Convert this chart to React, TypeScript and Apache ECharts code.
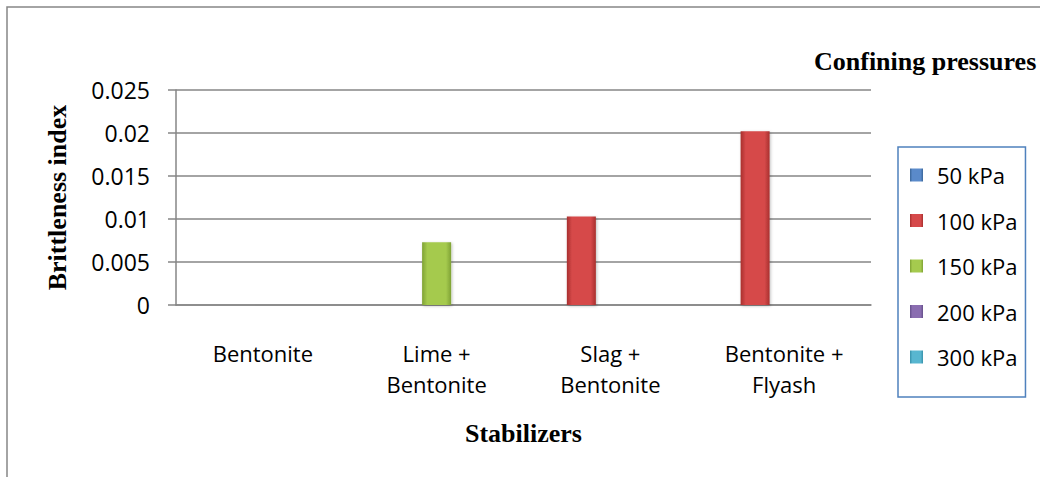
import React, { useEffect, useRef } from "react";
import * as echarts from "echarts";

// Stabilizer mixes along the category axis
const categories = ["Bentonite", "Lime +\nBentonite", "Slag +\nBentonite", "Bentonite +\nFlyash"];

// Confining pressure groups (legend order)
const seriesNames = ["50 kPa", "100 kPa", "150 kPa", "200 kPa", "300 kPa"];

// Brittleness index per stabilizer for each confining pressure
const values50 = [0, 0, 0, 0];
const values100 = [0, 0, 0.0103, 0.0202];
const values150 = [0, 0.0073, 0, 0];
const values200 = [0, 0, 0, 0];
const values300 = [0, 0, 0, 0];

// Value axis tick labels
const yTickLabels = ["0", "0.005", "0.01", "0.015", "0.02", "0.025"];
const yStep = 0.005;

// Bevel-style palette: [edge, centre]
const palette: [string, string][] = [
  ["#3A6699", "#5A8ACA"],
  ["#A8302E", "#D6494A"],
  ["#7FA234", "#A5CA4E"],
  ["#65508A", "#8A6DB0"],
  ["#3791AA", "#58B6D0"],
];

const seriesValues = [values50, values100, values150, values200, values300];

const sansFont = "'Open Sans', 'Noto Sans', sans-serif";
const serifFont = "'Liberation Serif', 'DejaVu Serif', serif";

function bevel(edge: string, centre: string) {
  return new echarts.graphic.LinearGradient(0, 0, 1, 0, [
    { offset: 0, color: edge },
    { offset: 0.18, color: centre },
    { offset: 0.82, color: centre },
    { offset: 1, color: edge },
  ]);
}

export default function App() {
  const ref = useRef<HTMLDivElement>(null);

  useEffect(() => {
    if (!ref.current) return;
    const chart = echarts.init(ref.current, null, { renderer: "svg" });

    const series = seriesNames.map((name, i) => ({
      name,
      type: "bar" as const,
      data: seriesValues[i],
      barGap: "0%",
      barCategoryGap: "16.5%",
      itemStyle: {
        color: bevel(palette[i][0], palette[i][1]),
        shadowColor: "rgba(0,0,0,0.25)",
        shadowBlur: 3,
        shadowOffsetX: 1,
        shadowOffsetY: 1,
      },
    }));

    chart.setOption({
      animation: false,
      backgroundColor: "#ffffff",
      grid: { left: 176, right: 169, top: 90, bottom: 172, containLabel: false },
      xAxis: {
        type: "category",
        data: categories,
        name: "Stabilizers",
        nameLocation: "middle",
        nameGap: 115,
        nameTextStyle: { fontFamily: serifFont, fontWeight: "bold", fontSize: 26, color: "#000" },
        axisLine: { show: true, lineStyle: { color: "#868686", width: 1.5 } },
        axisTick: { show: false },
        axisLabel: {
          fontFamily: sansFont,
          fontSize: 22,
          lineHeight: 31,
          color: "#000",
          margin: 32,
          interval: 0,
        },
      },
      yAxis: {
        type: "value",
        min: 0,
        max: 0.025,
        interval: yStep,
        name: "Brittleness index",
        nameLocation: "middle",
        nameRotate: 90,
        nameGap: 106,
        nameTextStyle: { fontFamily: serifFont, fontWeight: "bold", fontSize: 26, color: "#000" },
        axisLine: { show: true, lineStyle: { color: "#868686", width: 1.5 } },
        axisTick: { show: true, length: 8, inside: false, lineStyle: { color: "#868686", width: 1.5 } },
        axisLabel: {
          fontFamily: sansFont,
          fontSize: 23,
          color: "#000",
          margin: 26,
          formatter: (v: number) => yTickLabels[Math.round(v / yStep)] ?? String(v),
        },
        splitLine: { show: true, lineStyle: { color: "#868686", width: 1.5 } },
      },
      legend: {
        orient: "vertical",
        left: 898,
        top: 147,
        data: seriesNames,
        icon: "rect",
        itemWidth: 13,
        itemHeight: 13,
        itemGap: 19.5,
        padding: [15, 8, 27, 12],
        borderColor: "#4F81BD",
        borderWidth: 1.5,
        textStyle: {
          fontFamily: sansFont,
          fontSize: 22,
          lineHeight: 26,
          color: "#000",
          padding: [0, 0, 0, 9],
        },
      },
      graphic: [
        {
          type: "rect",
          shape: { x: 7, y: 7, width: 1200, height: 700 },
          style: { fill: "none", stroke: "#868686", lineWidth: 1.5 },
          silent: true,
        },
        {
          type: "text",
          left: 814,
          top: 48,
          style: {
            text: "Confining pressures",
            fontFamily: serifFont,
            fontWeight: "bold",
            fontSize: 26,
            fill: "#000",
          },
        },
      ],
      series,
    });

    return () => chart.dispose();
  }, []);

  return (
    <div
      ref={ref}
      style={{ position: "fixed", left: 0, top: 0, width: 1040, height: 477 }}
    />
  );
}
